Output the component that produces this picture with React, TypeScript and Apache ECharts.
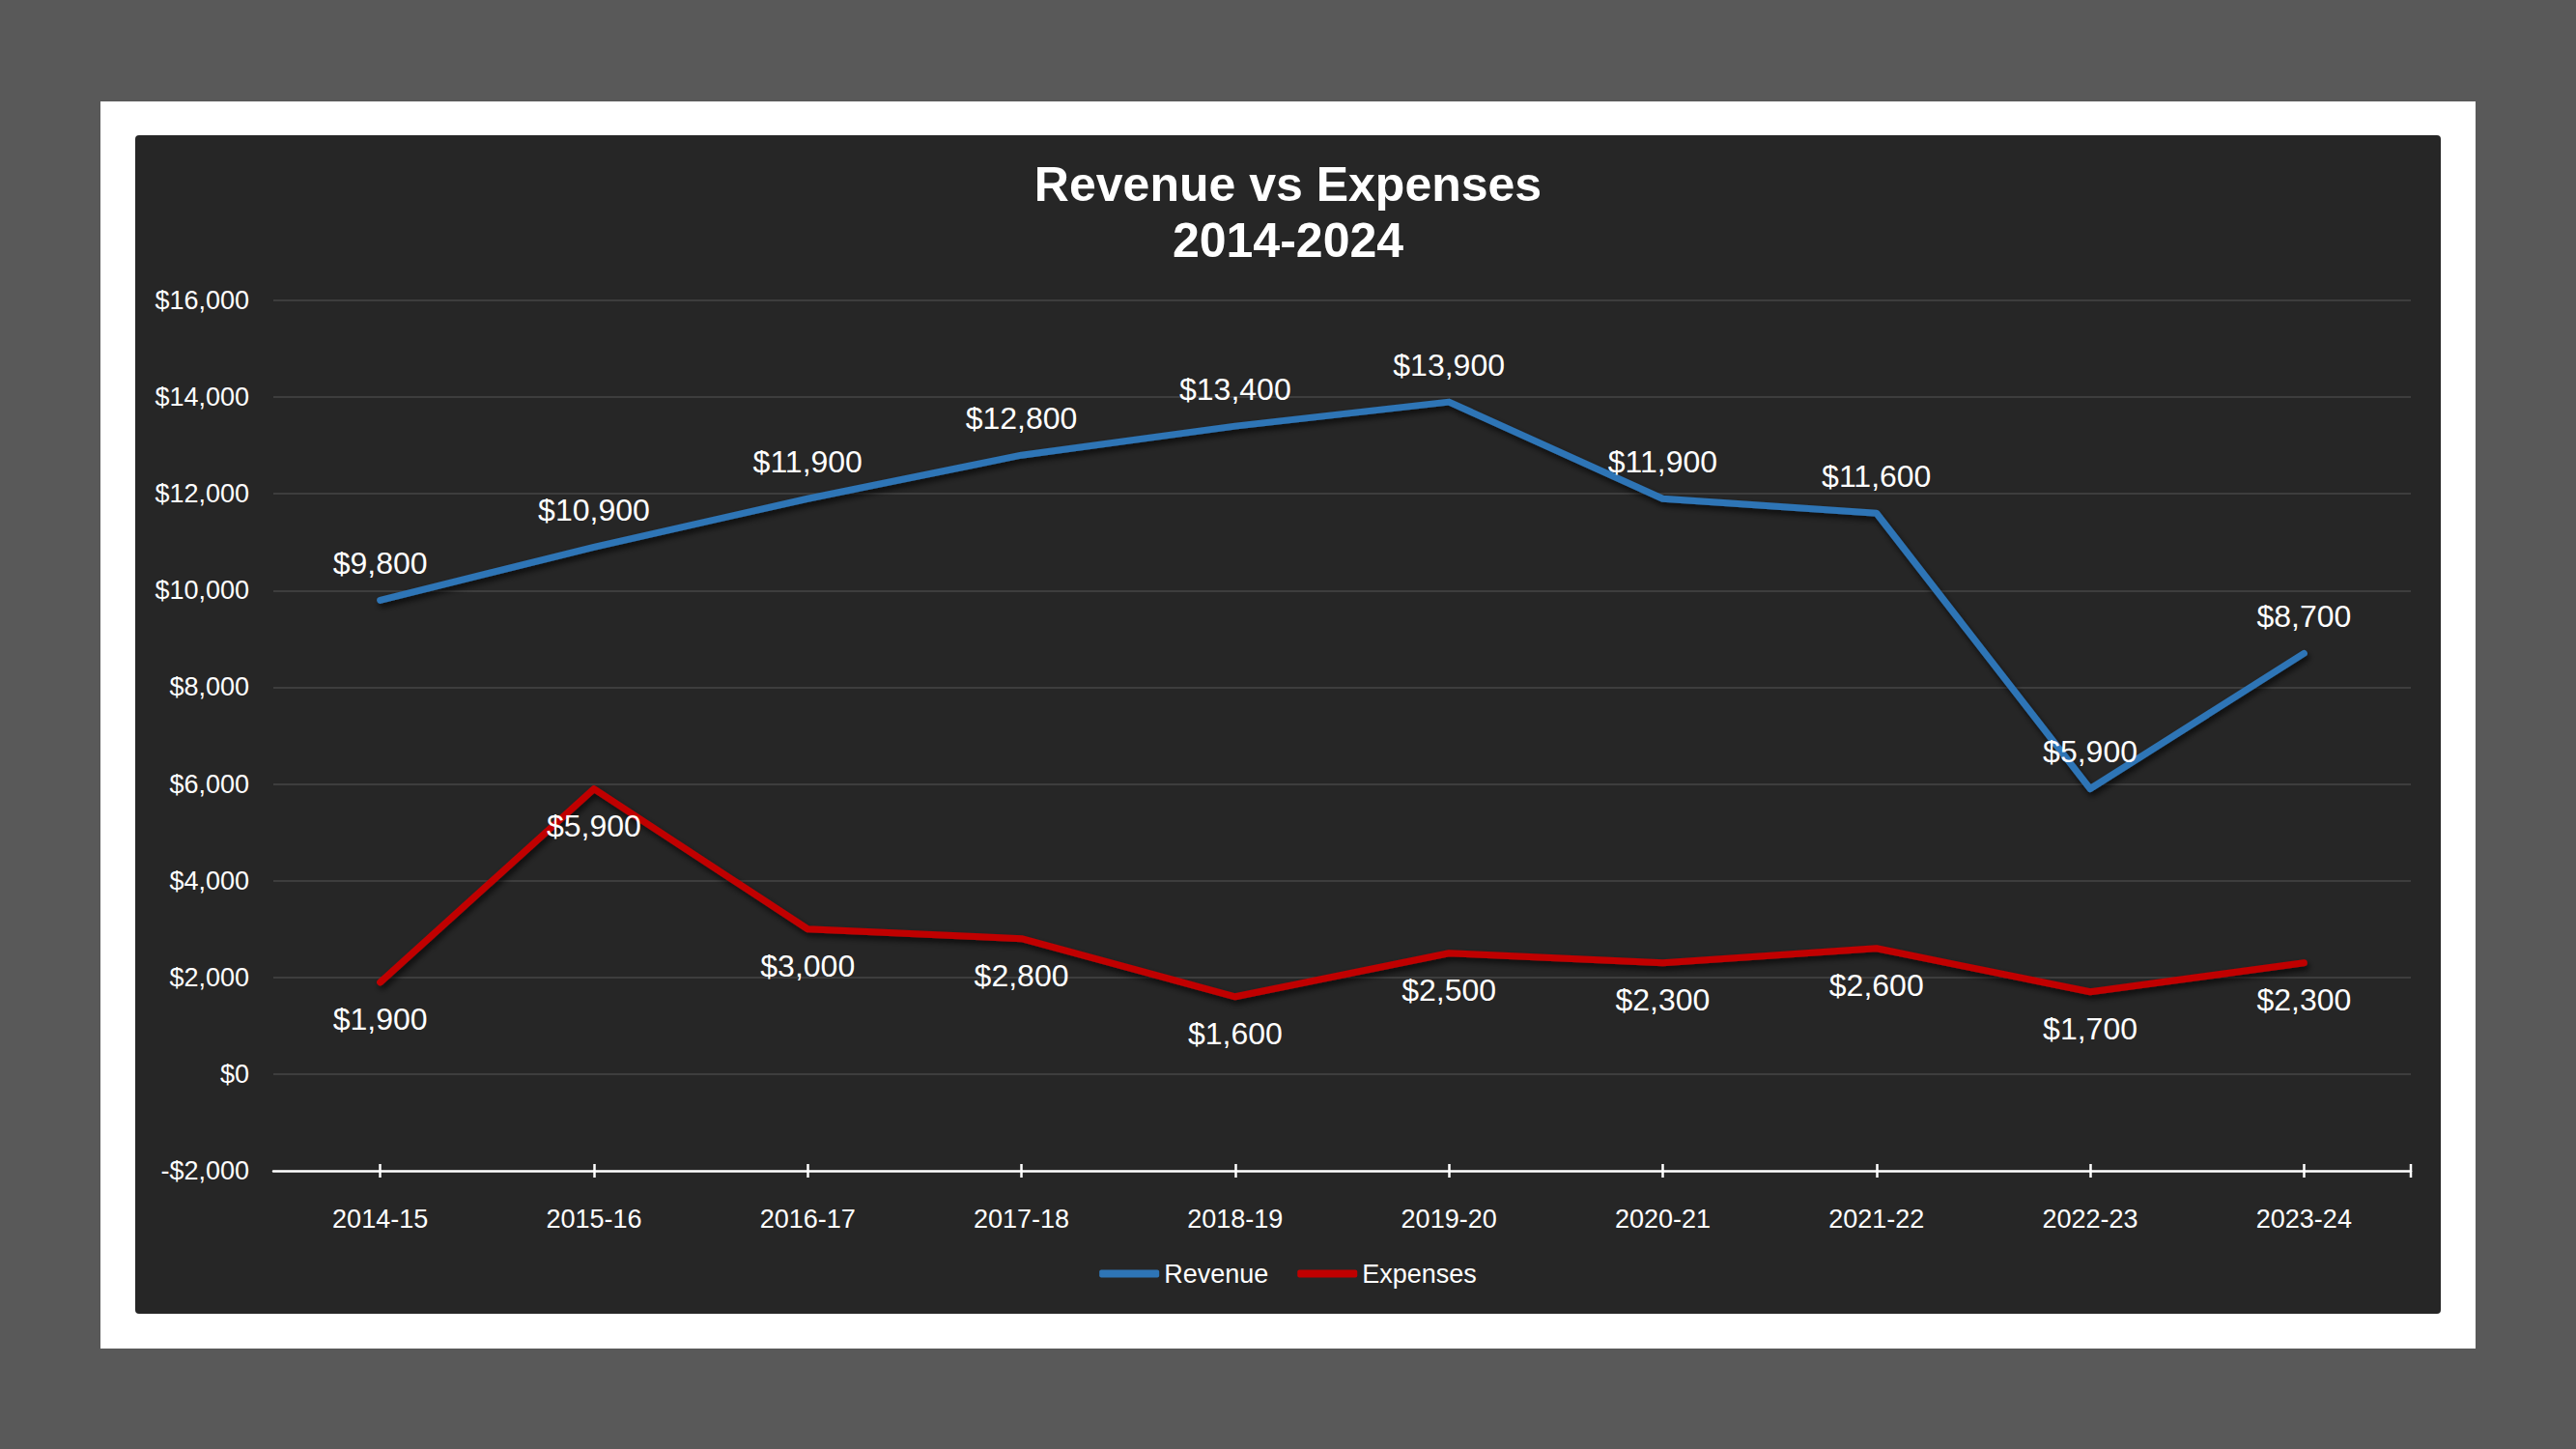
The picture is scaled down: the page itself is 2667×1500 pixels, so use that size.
import React, { useEffect, useRef } from 'react';
import * as echarts from 'echarts';

const categories = ['2014-15', '2015-16', '2016-17', '2017-18', '2018-19', '2019-20', '2020-21', '2021-22', '2022-23', '2023-24'];
const revenue = [9800, 10900, 11900, 12800, 13400, 13900, 11900, 11600, 5900, 8700];
const expenses = [1900, 5900, 3000, 2800, 1600, 2500, 2300, 2600, 1700, 2300];
const yMin = -2000;
const yMax = 16000;
const yInterval = 2000;
const titleText = 'Revenue vs Expenses\n2014-2024';

const FONT = 'Arial, "Liberation Sans", sans-serif';
const fmt = (v: number) => (v < 0 ? '-' : '') + '$' + Math.abs(v).toLocaleString('en-US');

export default function App() {
  const ref = useRef<HTMLDivElement>(null);
  useEffect(() => {
    if (!ref.current) return;
    const chart = echarts.init(ref.current, null, { renderer: 'svg' });
    const option: any = {
      animation: false,
      backgroundColor: '#595959',
      title: {
        text: titleText,
        left: 'center',
        top: 157,
        textStyle: { color: '#ffffff', fontFamily: FONT, fontSize: 50, fontWeight: 'bold', lineHeight: 58 },
      },
      graphic: [
        { type: 'rect', id: 'frame', z: -20, shape: { x: 104, y: 105, width: 2459, height: 1291 }, style: { fill: '#ffffff' } },
        { type: 'rect', id: 'panel', z: -19, shape: { x: 140, y: 140, width: 2387, height: 1220, r: 4 }, style: { fill: '#262626' } },
      ],
      legend: {
        left: 'center',
        top: 1300,
        itemWidth: 62,
        itemHeight: 8,
        itemGap: 30,
        icon: 'roundRect',
        textStyle: { color: '#ffffff', fontFamily: FONT, fontSize: 27 },
        data: ['Revenue', 'Expenses'],
      },
      grid: { left: 283, right: 171, top: 311, bottom: 288, containLabel: false },
      xAxis: [
        {
          type: 'category',
          data: categories,
          position: 'bottom',
          boundaryGap: true,
          axisLine: { show: true, onZero: false, lineStyle: { color: '#ffffff', width: 2.5 } },
          axisTick: { show: true, alignWithLabel: true, length: 7, lineStyle: { color: '#ffffff', width: 2.5 } },
          axisLabel: { color: '#ffffff', fontFamily: FONT, fontSize: 27, margin: 36 },
          splitLine: { show: false },
        },
        {
          type: 'category',
          data: categories,
          position: 'bottom',
          boundaryGap: true,
          axisLine: { show: false, onZero: false },
          axisTick: { show: true, alignWithLabel: true, inside: true, length: 7, lineStyle: { color: '#ffffff', width: 2.5 } },
          axisLabel: { show: false },
          splitLine: { show: false },
        },
      ],
      yAxis: {
        type: 'value',
        min: yMin,
        max: yMax,
        interval: yInterval,
        axisLine: { show: false },
        axisTick: { show: false },
        axisLabel: { color: '#ffffff', fontFamily: FONT, fontSize: 27, margin: 25, formatter: (v: number) => fmt(v) },
        splitLine: { show: true, lineStyle: { color: '#3d3d3d', width: 2 } },
      },
      series: [
        {
          name: 'Revenue',
          type: 'line',
          data: revenue,
          symbol: 'circle',
          symbolSize: 1,
          itemStyle: { color: '#2E75B6' },
          lineStyle: { color: '#2E75B6', width: 7, cap: 'round', join: 'round', shadowColor: 'rgba(0,0,0,0.7)', shadowBlur: 6, shadowOffsetY: 4, shadowOffsetX: 2 },
          label: { show: true, position: 'top', distance: 22, color: '#ffffff', fontFamily: FONT, fontSize: 32, formatter: (p: any) => fmt(p.value) },
          z: 3,
        },
        {
          name: 'Expenses',
          type: 'line',
          data: expenses,
          symbol: 'circle',
          symbolSize: 1,
          itemStyle: { color: '#C00000' },
          lineStyle: { color: '#C00000', width: 7, cap: 'round', join: 'round', shadowColor: 'rgba(0,0,0,0.7)', shadowBlur: 6, shadowOffsetY: 4, shadowOffsetX: 2 },
          label: { show: true, position: 'bottom', distance: 22, color: '#ffffff', fontFamily: FONT, fontSize: 32, formatter: (p: any) => fmt(p.value) },
          z: 3,
        },
      ],
    };
    chart.setOption(option);
    // right-end cross tick at the axis end
    const pLast = chart.convertToPixel({ xAxisIndex: 0, yAxisIndex: 0 } as any, [categories.length - 1, yMin]) as number[];
    const pPrev = chart.convertToPixel({ xAxisIndex: 0, yAxisIndex: 0 } as any, [categories.length - 2, yMin]) as number[];
    if (pLast && pPrev) {
      const xEnd = pLast[0] + (pLast[0] - pPrev[0]) / 2;
      chart.setOption({
        graphic: [
          { type: 'line', id: 'endTick', z: 10, shape: { x1: xEnd, y1: pLast[1] - 7, x2: xEnd, y2: pLast[1] + 7 }, style: { stroke: '#ffffff', lineWidth: 2.5 } },
        ],
      });
    }
    return () => chart.dispose();
  }, []);
  return <div ref={ref} style={{ position: 'fixed', left: 0, top: 0, width: 2667, height: 1500 }} />;
}
